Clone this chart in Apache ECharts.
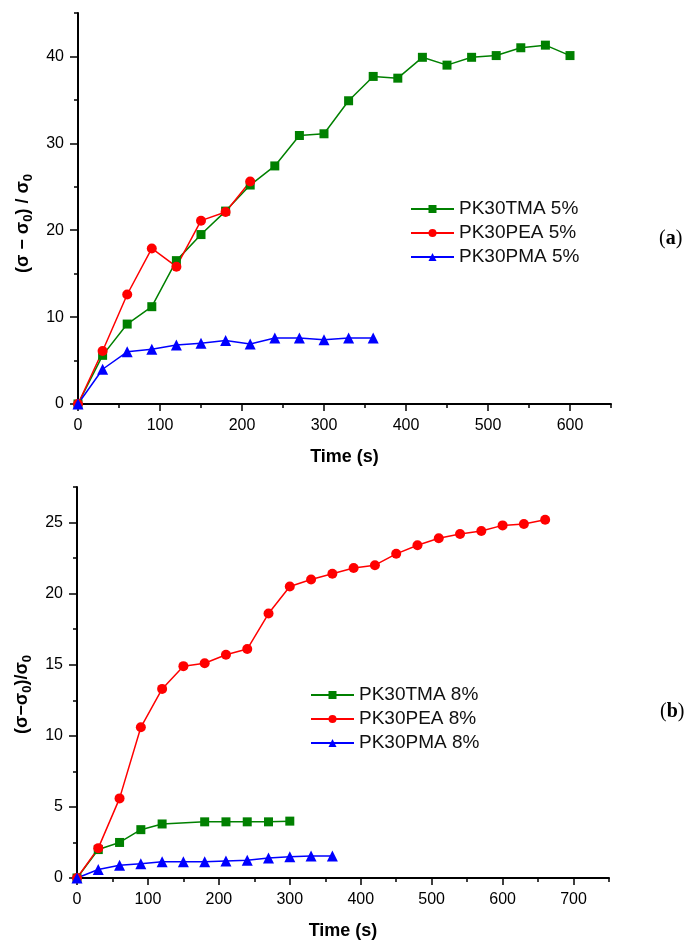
<!DOCTYPE html>
<html>
<head>
<meta charset="utf-8">
<script src="https://cdn.jsdelivr.net/npm/echarts@6/dist/echarts.min.js"></script>
<style>
html,body{margin:0;padding:0;background:#fff;}
#chart{width:698px;height:949px;}
</style>
</head>
<body>
<div id="chart"></div>
<script>
// ---------- Data: panel (a), 5% ----------
var namesA = ['PK30TMA 5%', 'PK30PEA 5%', 'PK30PMA 5%'];
var timeTMA5 = [0,30,60,90,120,150,180,210,240,270,300,330,360,390,420,450,480,510,540,570,600];
var valTMA5  = [0,5.6,9.2,11.2,16.5,19.5,22.2,25.2,27.4,30.9,31.1,34.9,37.7,37.5,39.9,39.0,39.9,40.1,41.0,41.3,40.1];
var timePEA5 = [0,30,60,90,120,150,180,210];
var valPEA5  = [0,6.1,12.6,17.9,15.8,21.1,22.1,25.6];
var timePMA5 = [0,30,60,90,120,150,180,210,240,270,300,330,360];
var valPMA5  = [0,4.0,6.0,6.3,6.8,7.0,7.3,6.9,7.6,7.6,7.4,7.6,7.6];

// ---------- Data: panel (b), 8% ----------
var namesB = ['PK30TMA 8%', 'PK30PEA 8%', 'PK30PMA 8%'];
var timeTMA8 = [0,30,60,90,120,180,210,240,270,300];
var valTMA8  = [0,2.0,2.5,3.4,3.8,3.95,3.95,3.95,3.95,4.0];
var timePEA8 = [0,30,60,90,120,150,180,210,240,270,300,330,360,390,420,450,480,510,540,570,600,630,660];
var valPEA8  = [0,2.1,5.6,10.6,13.3,14.9,15.1,15.7,16.1,18.6,20.5,21.0,21.4,21.8,22.0,22.8,23.4,23.9,24.2,24.4,24.8,24.9,25.2];
var timePMA8 = [0,30,60,90,120,150,180,210,240,270,300,330,360];
var valPMA8  = [0,0.6,0.9,1.0,1.15,1.15,1.15,1.2,1.25,1.4,1.5,1.55,1.55];

// ---------- Tick labels ----------
var xTicksA = [0,100,200,300,400,500,600];
var yTicksA = [0,10,20,30,40];
var xTicksB = [0,100,200,300,400,500,600,700];
var yTicksB = [0,5,10,15,20,25];

function pairs(t, v) { return t.map(function (x, i) { return [x, v[i]]; }); }

var FONT = 'Liberation Sans, Arial, sans-serif';
var GREEN = '#008000', RED = '#ff0000', BLUE = '#0000ff';

function mainX(grid, max, ticks) {
  return {
    type: 'value', gridIndex: grid, min: 0, max: max, interval: 100,
    axisLine: { lineStyle: { color: '#000', width: 2 } },
    axisTick: { length: 7, customValues: ticks, lineStyle: { color: '#000', width: 1.5 } },
    axisLabel: { customValues: ticks, margin: 14, color: '#000', fontSize: 16, fontFamily: FONT },
    splitLine: { show: false },
    name: 'Time (s)', nameLocation: 'middle', nameGap: 44,
    nameTextStyle: { color: '#000', fontSize: 18, fontWeight: 'bold', fontFamily: FONT }
  };
}
function minorX(grid, max) {
  return {
    type: 'value', gridIndex: grid, min: 0, max: max, interval: 50, position: 'top',
    axisLine: { show: false, onZero: true },
    axisTick: { inside: true, length: 4, lineStyle: { color: '#000', width: 1.5 } },
    axisLabel: { show: false }, splitLine: { show: false }
  };
}
function mainY(grid, max, ticks, name, pad) {
  return {
    type: 'value', gridIndex: grid, min: 0, max: max, interval: ticks[1] - ticks[0],
    axisLine: { show: true, lineStyle: { color: '#000', width: 2 } },
    axisTick: { show: true, length: 8, customValues: ticks, lineStyle: { color: '#000', width: 1.5 } },
    axisLabel: { customValues: ticks, margin: 14, color: '#000', fontSize: 16, fontFamily: FONT },
    splitLine: { show: false },
    name: name, nameLocation: 'middle', nameGap: 42, nameRotate: 90,
    nameTextStyle: {
      padding: [0, pad, 0, 0],
      rich: {
        b: { fontSize: 18, fontWeight: 'bold', fontFamily: FONT, color: '#000', lineHeight: 24 },
        s: { fontSize: 13, fontWeight: 'bold', fontFamily: FONT, color: '#000', lineHeight: 24, verticalAlign: 'bottom' }
      }
    }
  };
}
function minorY(grid, max, step) {
  return {
    type: 'value', gridIndex: grid, min: 0, max: max, interval: step, position: 'right',
    axisLine: { show: false, onZero: true },
    axisTick: { show: true, inside: true, length: 4, lineStyle: { color: '#000', width: 1.5 } },
    axisLabel: { show: false }, splitLine: { show: false }
  };
}
function ser(name, xi, yi, data, color, symbol, size) {
  return {
    name: name, type: 'line', xAxisIndex: xi, yAxisIndex: yi, data: data,
    symbol: symbol, symbolSize: size, showSymbol: true,
    lineStyle: { color: color, width: 1.5 },
    itemStyle: { color: color },
    emphasis: { disabled: true }, animation: false, z: 3
  };
}
function legend(names, left, top) {
  return {
    data: names, orient: 'vertical', left: left, top: top,
    itemWidth: 43, itemHeight: 10, itemGap: 4,
    textStyle: { fontSize: 19, lineHeight: 20, fontFamily: FONT, color: '#111' },
    selectedMode: false
  };
}

var chart = echarts.init(document.getElementById('chart'), null, { renderer: 'canvas' });
chart.setOption({
  backgroundColor: '#fff',
  animation: false,
  grid: [
    { left: 78, top: 13, width: 533, height: 391 },
    { left: 77, top: 487, width: 532, height: 391 }
  ],
  xAxis: [ mainX(0, 650, xTicksA), minorX(0, 650), mainX(1, 750, xTicksB), minorX(1, 750) ],
  yAxis: [
    mainY(0, 45, yTicksA, '{b|(σ − σ}{s|0}{b|) / σ}{s|0}', 30),
    minorY(0, 45, 5),
    mainY(1, 27.5, yTicksB, '{b|(σ−σ}{s|0}{b|)/σ}{s|0}', 24),
    minorY(1, 27.5, 2.5)
  ],
  legend: [ legend(namesA, 405, 194), legend(namesB, 305, 680) ],
  series: [
    ser(namesA[0], 0, 0, pairs(timeTMA5, valTMA5), GREEN, 'rect', 9),
    ser(namesA[1], 0, 0, pairs(timePEA5, valPEA5), RED, 'circle', 10),
    ser(namesA[2], 0, 0, pairs(timePMA5, valPMA5), BLUE, 'triangle', 11),
    ser(namesB[0], 2, 2, pairs(timeTMA8, valTMA8), GREEN, 'rect', 9),
    ser(namesB[1], 2, 2, pairs(timePEA8, valPEA8), RED, 'circle', 10),
    ser(namesB[2], 2, 2, pairs(timePMA8, valPMA8), BLUE, 'triangle', 11)
  ],
  graphic: [
    { type: 'text', left: 659, top: 229, style: { text: '({a|a})', font: '20px Liberation Serif, serif', fill: '#000',
      rich: { a: { fontSize: 20, fontWeight: 'bold', fontFamily: 'Liberation Serif, serif', fill: '#000' } } } },
    { type: 'text', left: 660, top: 702, style: { text: '({a|b})', font: '20px Liberation Serif, serif', fill: '#000',
      rich: { a: { fontSize: 20, fontWeight: 'bold', fontFamily: 'Liberation Serif, serif', fill: '#000' } } } }
  ]
});
</script>
</body>
</html>
